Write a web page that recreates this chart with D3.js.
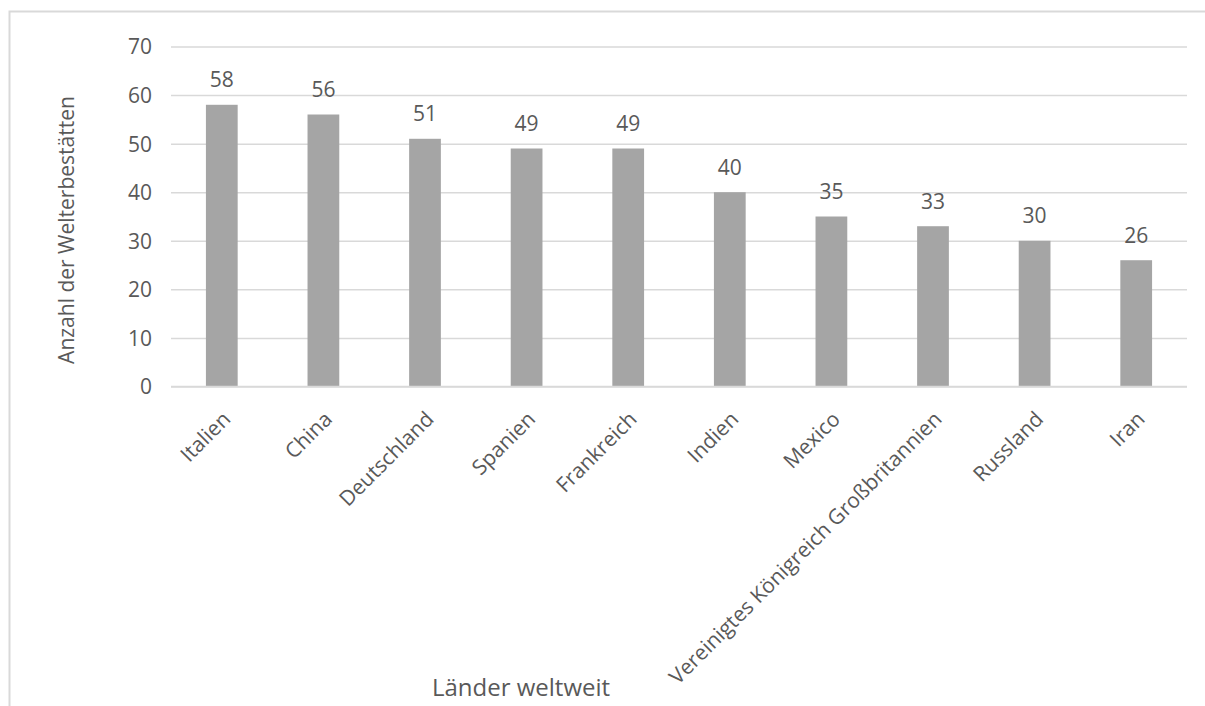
<!DOCTYPE html>
<html><head><meta charset="utf-8">
<script src="https://cdn.jsdelivr.net/npm/d3@7"></script>
<style>
html,body{margin:0;padding:0;background:#fff;}
svg text{font-family:"Open Sans",sans-serif;fill:#595959;}
</style></head>
<body>
<svg id="c" width="1205" height="706"></svg>
<script>
const categories = ["Italien","China","Deutschland","Spanien","Frankreich","Indien","Mexico","Vereinigtes Königreich Großbritannien","Russland","Iran"];
const values = [58,56,51,49,49,40,35,33,30,26];
const yTicks = [0,10,20,30,40,50,60,70];
const yTitle = "Anzahl der Welterbestätten";
const xTitle = "Länder weltweit";

const svg = d3.select("#c");
const m = {left:171, right:1187, top:46.5, bottom:386.5};

// chart border
svg.append("rect").attr("x",9.5).attr("y",11.5).attr("width",1230).attr("height",760)
  .attr("fill","none").attr("stroke","#d9d9d9").attr("stroke-width",2);

const x = d3.scaleBand().domain(categories).range([m.left,m.right]).paddingInner(0.6875).paddingOuter(0.34375);
const y = d3.scaleLinear().domain([0,70]).range([m.bottom,m.top]);

// gridlines
const gy = svg.append("g").attr("transform",`translate(${m.left},0)`)
  .call(d3.axisLeft(y).tickValues(yTicks).tickSize(-(m.right-m.left)).tickFormat(""));
gy.select(".domain").remove();
gy.selectAll(".tick line").attr("stroke","#d9d9d9").attr("stroke-width",1.5);

// y tick labels
const ya = svg.append("g").attr("transform",`translate(${m.left-19},0)`)
  .call(d3.axisLeft(y).tickValues(yTicks).tickSize(0).tickPadding(0));
ya.select(".domain").remove();
ya.selectAll("text").attr("font-size",21).attr("fill","#595959").attr("font-family","Open Sans").attr("dy","0.35em");

// bars
svg.append("g").selectAll("rect").data(values).join("rect")
  .attr("x",(d,i)=>x(categories[i])).attr("width",x.bandwidth())
  .attr("y",d=>y(d)).attr("height",d=>y(0)-y(d)).attr("fill","#a5a5a5");

// data labels
svg.append("g").selectAll("text").data(values).join("text")
  .attr("x",(d,i)=>x(categories[i])+x.bandwidth()/2).attr("y",d=>y(d)-17.5)
  .attr("text-anchor","middle").attr("font-size",21).text(d=>d);

// x axis line
svg.append("line").attr("x1",m.left).attr("x2",m.right).attr("y1",y(0)).attr("y2",y(0))
  .attr("stroke","#d9d9d9").attr("stroke-width",1.5);

// category labels
const xa = svg.append("g").attr("transform",`translate(0,${m.bottom})`)
  .call(d3.axisBottom(x).tickSize(0).tickPadding(0));
xa.select(".domain").remove();
xa.selectAll("text").attr("font-size",21).attr("fill","#595959").attr("font-family","Open Sans")
  .attr("text-anchor","end").attr("dy",0).attr("y",0)
  .attr("transform","translate(10,34) rotate(-45)");

// axis titles
svg.append("text").attr("transform","translate(73.5,230) rotate(-90)")
  .attr("text-anchor","middle").attr("font-size",21).text(yTitle);
svg.append("text").attr("x",521).attr("y",696)
  .attr("text-anchor","middle").attr("font-size",24).text(xTitle);
</script>
</body></html>
